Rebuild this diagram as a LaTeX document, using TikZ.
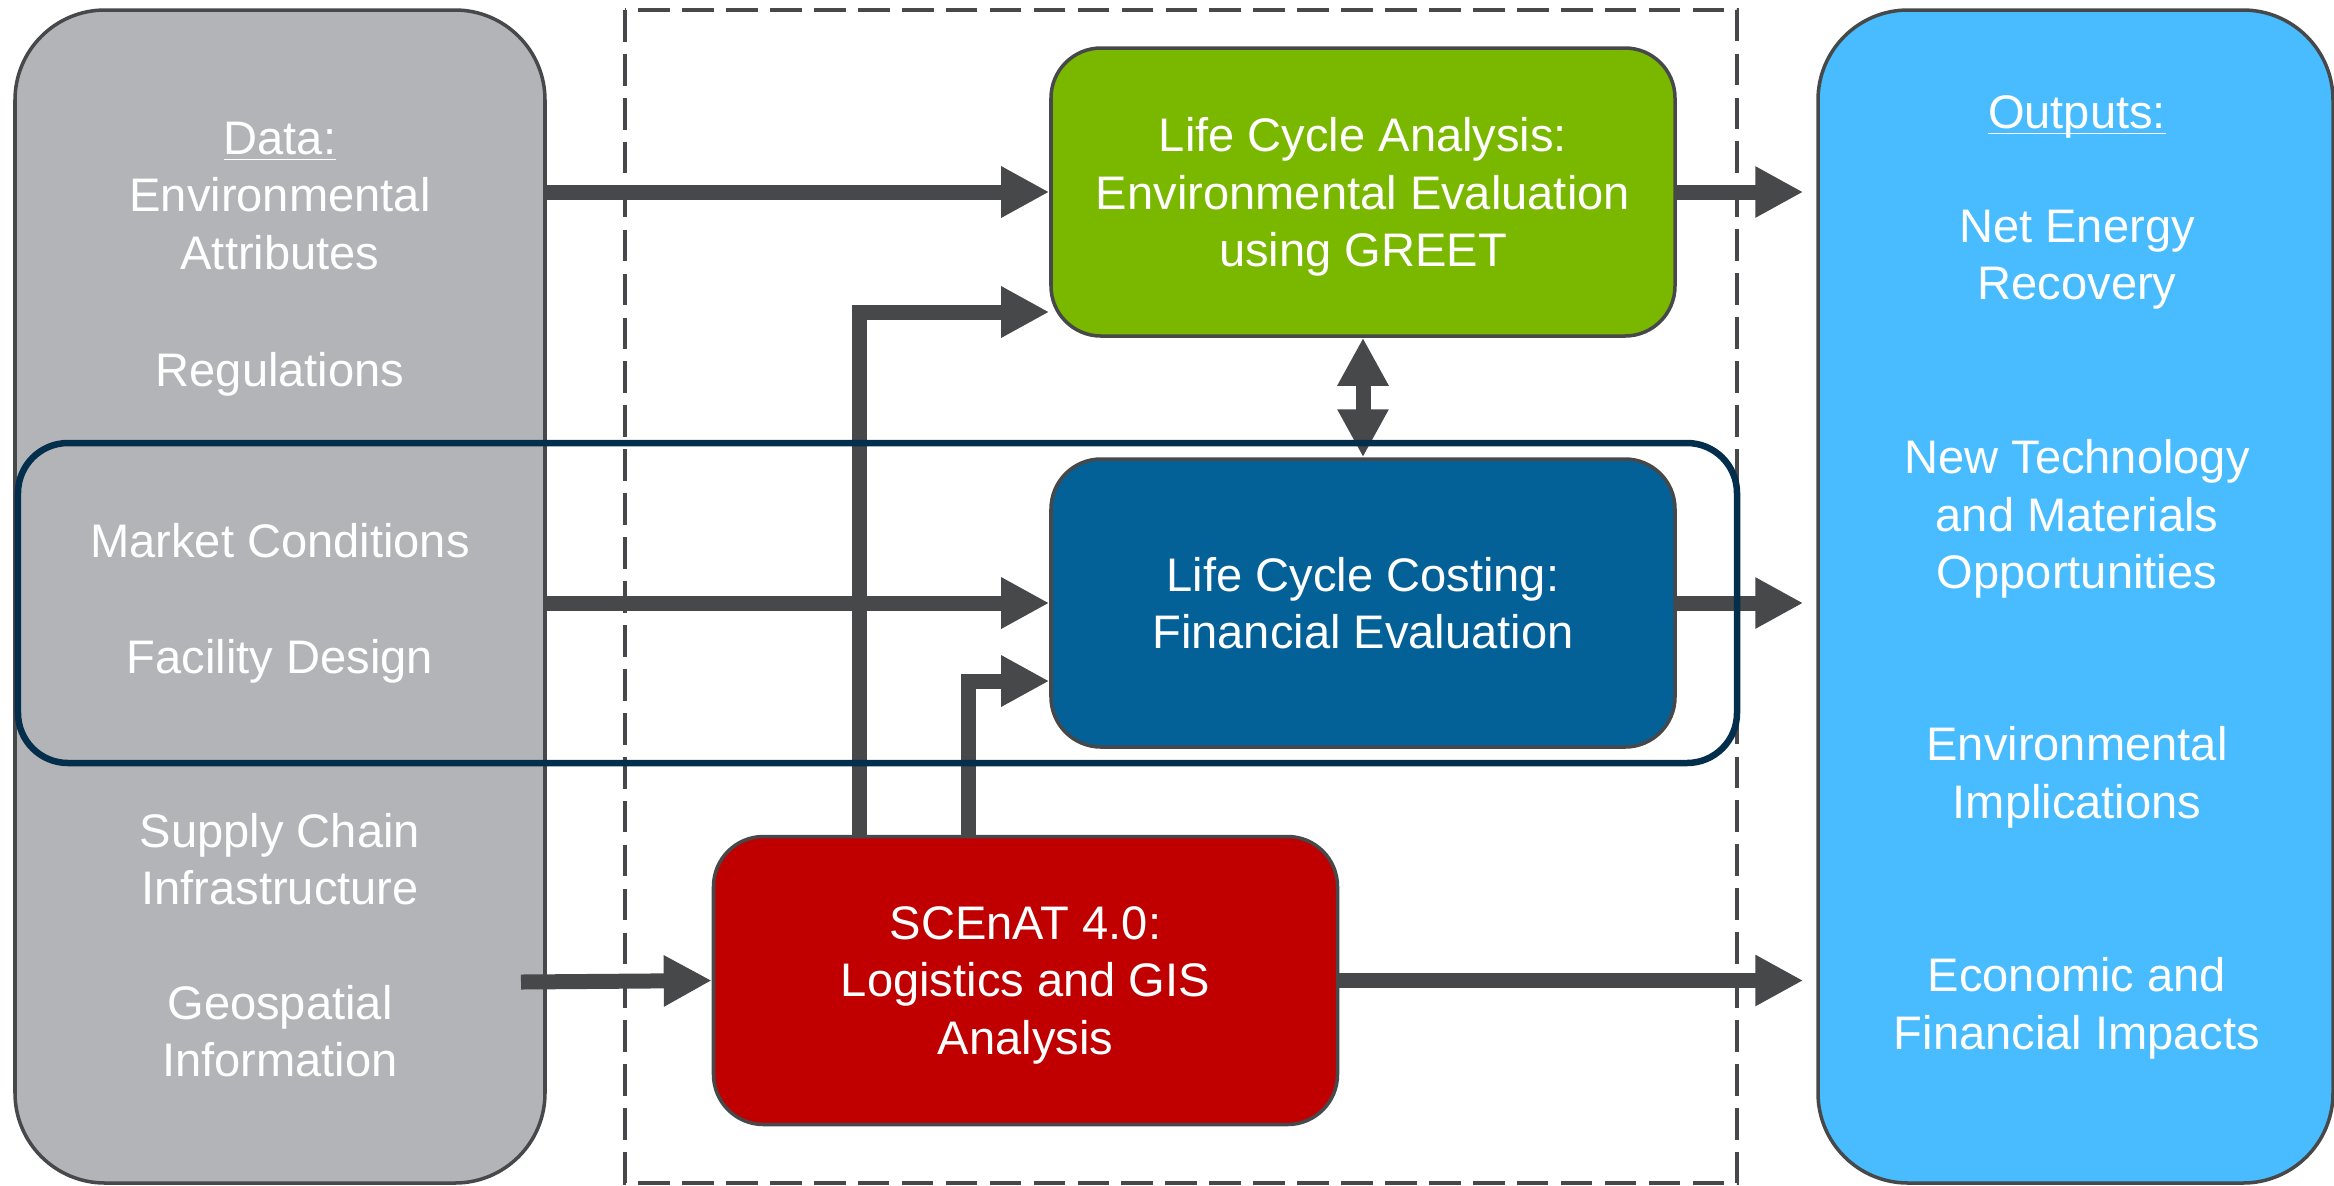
\documentclass[tikz,border=0pt]{standalone}
\usepackage{fontspec}
\setmainfont{Liberation Sans}
\usetikzlibrary{arrows.meta}

\definecolor{datagray}{HTML}{B3B4B7}
\definecolor{outblue}{HTML}{48BCFF}
\definecolor{lcagreen}{HTML}{7AB800}
\definecolor{lccblue}{HTML}{046197}
\definecolor{scenred}{HTML}{C00000}
\definecolor{framenavy}{HTML}{032E4C}
\definecolor{edgegray}{HTML}{47484A}

\newcommand{\headline}[1]{\underline{\raisebox{0pt}[\height][0pt]{#1}}}

\begin{document}
\begin{tikzpicture} [align=center, text=white, text depth=0pt, font=\fontsize{13.4}{16.3}\selectfont,
  box/.style={draw=edgegray, line width=1pt, rounded corners=0.5cm, minimum width=6.24cm, minimum height=2.88cm},
  big/.style={draw=edgegray, line width=1pt, rounded corners=0.9cm, minimum height=11.73cm},
  flow/.style={draw=edgegray, line width=0.15cm, -{Triangle[length=0.48cm, width=0.48cm]}}]

\useasboundingbox (0,0) rectangle (23.34,-11.85);

\path (2.80,-5.965) node[big, fill=datagray, minimum width=5.30cm] (data) {}
      (20.755,-5.965) node[big, fill=outblue, minimum width=5.15cm] (outs) {};

\draw[edgegray, line width=1pt, dash pattern=on 9pt off 3.5pt] (6.25,-0.10) rectangle (17.37,-11.83);

\path (13.63,-1.92) node[box, fill=lcagreen] (lca) {Life Cycle Analysis:\\Environmental Evaluation\\using GREET}
      (13.63,-6.03) node[box, fill=lccblue] (lcc) {Life Cycle Costing:\\Financial Evaluation}
      (10.255,-9.805) node[box, fill=scenred] (scenat) {SCEnAT 4.0:\\Logistics and GIS\\Analysis};

\path (2.80,-1.955) node (d1) {\headline{Data:}\\Environmental\\Attributes}
      (2.80,-3.69) node (d2) {Regulations}
      (2.80,-5.40) node (d3) {Market Conditions}
      (2.80,-6.56) node (d4) {Facility Design}
      (2.80,-8.59) node (d5) {Supply Chain\\Infrastructure}
      (2.80,-10.31) node (d6) {Geospatial\\Information};

\path (20.77,-1.12) node (o0) {\headline{Outputs:}}
      (20.77,-2.545) node (o1) {Net Energy\\Recovery}
      (20.77,-5.14) node (o2) {New Technology\\and Materials\\Opportunities}
      (20.77,-7.725) node (o3) {Environmental\\Implications}
      (20.77,-10.035) node (o4) {Economic and\\Financial Impacts};

\coordinate (geo) at (5.21,-9.82);

\draw[flow] (data.east |- lca.west) to (lca.west);
\draw[flow] (data.east |- lcc.west) to (lcc.west);
\draw[flow] (geo) to (scenat.west);
\draw[flow] ([xshift=-1.66cm]scenat.north) |- ([yshift=-1.2cm]lca.west);
\draw[flow] ([xshift=-0.57cm]scenat.north) |- ([yshift=-0.78cm]lcc.west);
\draw[flow, shorten >=0.13cm] (lca.east) to (outs.west |- lca.east);
\draw[flow, shorten >=0.13cm] (lcc.east) to (outs.west |- lcc.east);
\draw[flow, shorten >=0.13cm] (scenat.east) to (outs.west |- scenat.east);
\draw[flow, {Triangle[length=0.48cm, width=0.48cm]}-{Triangle[length=0.48cm, width=0.48cm]}] (lca.south) to (lcc.north);

\draw[framenavy, line width=0.065cm, rounded corners=0.5cm] (0.18,-4.43) rectangle (17.37,-7.63);

\end{tikzpicture}
\end{document}
